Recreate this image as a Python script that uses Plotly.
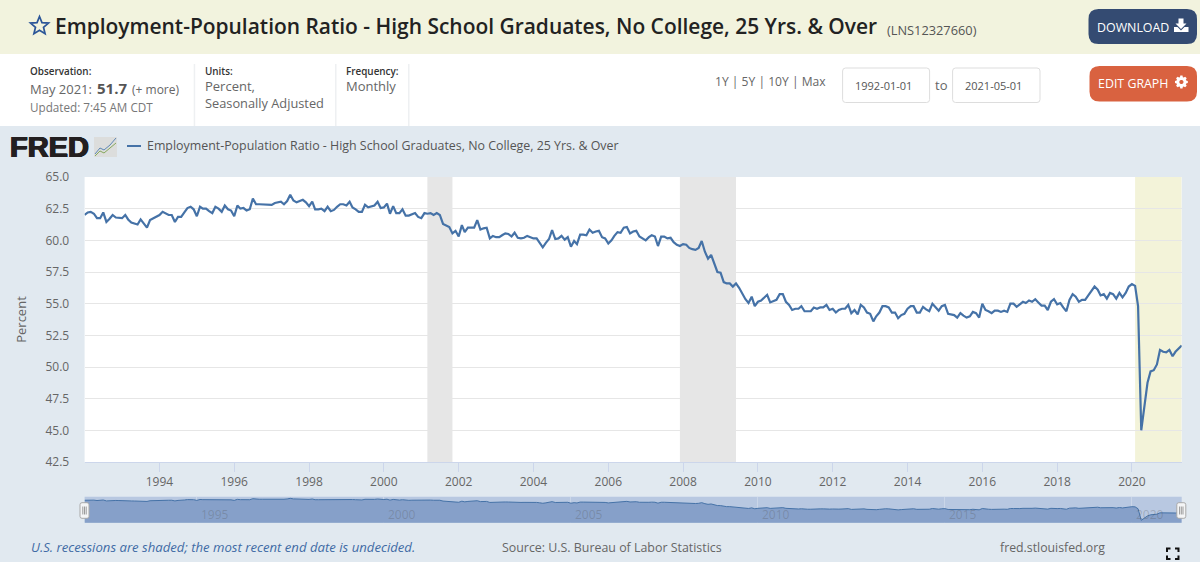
import math

import pandas as pd
import plotly.graph_objects as go

W, H = 1200, 562

# Monthly employment-population ratio, one row per year from 1992
ratio_1992_2001 = [
    62.0, 62.2, 62.25, 62.1, 61.75, 61.75, 62.2, 61.45, 61.7, 62.0, 61.8, 61.75,
    61.75, 62.0, 61.65, 61.4, 61.35, 61.25, 61.65, 61.35, 61.0, 61.6, 61.75, 61.85,
    62.0, 62.25, 62.1, 62.0, 62.0, 61.45, 61.85, 61.85, 62.2, 62.55, 62.65, 62.45,
    61.9, 62.65, 62.5, 62.5, 62.3, 62.15, 62.65, 62.5, 62.25, 62.75, 62.45, 62.35,
    61.9, 62.75, 62.5, 62.55, 62.35, 62.45, 63.3, 62.85, 62.85, 62.85, 62.8, 62.85,
    62.8, 62.95, 63.0, 63.05, 62.85, 63.1, 63.6, 63.15, 63.0, 63.1, 63.2, 63.0,
    62.7, 63.05, 62.45, 62.45, 62.5, 62.3, 62.65, 62.3, 62.4, 62.65, 62.85, 62.85,
    62.75, 63.05, 62.6, 62.45, 62.25, 62.25, 62.8, 62.6, 62.65, 62.75, 63.05, 62.55,
    62.6, 62.9, 62.1, 62.7, 62.15, 62.15, 62.45, 61.95, 61.95, 62.05, 62.15, 61.85,
    61.75, 62.15, 62.1, 62.15, 62.0, 62.15, 62.0, 61.3, 61.2, 61.05, 60.55, 60.75,
]
ratio_2002_2011 = [
    60.3, 61.2, 60.65, 61.0, 61.0, 61.0, 61.6, 60.85, 60.95, 61.0, 60.15, 60.35,
    60.25, 60.25, 60.4, 60.55, 60.5, 60.3, 60.6, 60.2, 60.15, 60.2, 60.35, 60.25,
    60.15, 60.15, 59.85, 59.45, 59.8, 60.1, 60.8, 60.1, 60.15, 60.35, 60.05, 60.25,
    59.5, 59.95, 59.7, 60.45, 60.45, 60.4, 60.85, 60.6, 60.7, 60.75, 60.25, 60.15,
    59.75, 60.0, 60.35, 60.65, 60.6, 61.0, 61.05, 60.55, 60.7, 60.75, 60.3, 60.15,
    60.0, 60.25, 60.4, 60.3, 59.55, 60.3, 60.3, 60.15, 60.2, 59.85, 59.65, 59.55,
    59.7, 59.65, 59.4, 59.3, 59.25, 59.4, 59.95, 59.1, 58.55, 58.85, 58.15, 57.5,
    57.45, 56.7, 56.6, 56.6, 56.35, 56.6, 56.25, 55.8, 55.35, 55.05, 55.55, 54.8,
    55.15, 55.25, 55.5, 55.7, 55.1, 55.2, 55.3, 55.75, 55.75, 55.15, 54.9, 54.5,
    54.6, 54.6, 54.8, 54.4, 54.4, 54.4, 54.7, 54.6, 54.7, 54.7, 54.9, 54.5,
]
ratio_2012_2021 = [
    54.6, 54.3, 54.5, 54.6, 54.6, 54.9, 54.25, 54.5, 54.15, 54.9, 54.7, 54.3,
    54.2, 53.6, 54.0, 54.3, 54.8, 54.8, 54.7, 54.3, 54.3, 53.85, 54.1, 54.2,
    54.6, 54.8, 54.8, 54.3, 54.3, 54.75, 54.55, 54.4, 55.0, 54.7, 54.45, 54.8,
    54.9, 54.2, 54.15, 54.1, 53.9, 54.25, 54.05, 53.9, 54.0, 54.35, 54.25, 53.9,
    55.0, 54.5, 54.4, 54.25, 54.45, 54.45, 54.35, 54.45, 54.35, 55.0, 55.0, 54.75,
    54.95, 55.15, 55.05, 55.25, 55.15, 55.35, 55.1, 54.85, 54.85, 54.5, 55.15, 55.35,
    54.95, 55.05, 54.7, 54.4, 55.3, 55.75, 55.55, 55.15, 55.3, 55.3, 55.65, 56.0,
    56.35, 56.1, 55.65, 55.75, 55.4, 55.85, 55.75, 55.4, 55.85, 55.5, 55.85, 56.35,
    56.55, 56.4, 54.8, 45.0, 46.9, 48.75, 49.65, 49.75, 50.2, 51.35, 51.2, 51.15,
    51.35, 50.85, 51.2, 51.5, 51.7,
]
ratio = ratio_1992_2001 + ratio_2002_2011 + ratio_2012_2021
months = pd.date_range("1992-01-01", "2021-05-01", freq="MS")

recession_starts = ["2001-03-01", "2007-12-01", "2020-02-01"]
recession_ends = ["2001-11-01", "2009-06-01", "2021-05-01"]
recession_fills = ["#e6e6e6", "#e6e6e6", "#f3f3d9"]
axis_years = list(range(1994, 2021, 2))
overview_years = [1995, 2000, 2005, 2010, 2015, 2020]

series_name = "Employment-Population Ratio - High School Graduates, No College, 25 Yrs. & Over"

BODY = "Open Sans"
GREY = "#666666"
PLOT_L, PLOT_R = 84.6, 1181.7
BG = "#e1e9f0"


def fx(px):
    return px / W


def fy(py):
    return 1 - py / H


shapes = []
annotations = []


def rect(x0, y0, x1, y1, fill, line=None, layer="below"):
    shapes.append(dict(type="rect", xref="paper", yref="paper",
                       x0=fx(x0), x1=fx(x1), y0=fy(y1), y1=fy(y0),
                       fillcolor=fill, layer=layer,
                       line=dict(color=line or fill, width=1 if line else 0)))


def ring(points):
    return "M" + " L".join(f"{fx(x):.5f},{fy(y):.5f}" for x, y in points) + " Z"


def path(points, fill=None, line=None, width=1.5, layer="above", close=False):
    d = "M" + " L".join(f"{fx(x):.5f},{fy(y):.5f}" for x, y in points) + (" Z" if close else "")
    shapes.append(dict(type="path", xref="paper", yref="paper", path=d, layer=layer,
                       fillcolor=fill or "rgba(0,0,0,0)",
                       line=dict(color=line or "rgba(0,0,0,0)", width=width if line else 0)))


def rounded(x0, y0, x1, y1, r, fill, line=None, layer="below"):
    d = (f"M{fx(x0 + r)},{fy(y0)} L{fx(x1 - r)},{fy(y0)} Q{fx(x1)},{fy(y0)} {fx(x1)},{fy(y0 + r)} "
         f"L{fx(x1)},{fy(y1 - r)} Q{fx(x1)},{fy(y1)} {fx(x1 - r)},{fy(y1)} "
         f"L{fx(x0 + r)},{fy(y1)} Q{fx(x0)},{fy(y1)} {fx(x0)},{fy(y1 - r)} "
         f"L{fx(x0)},{fy(y0 + r)} Q{fx(x0)},{fy(y0)} {fx(x0 + r)},{fy(y0)} Z")
    shapes.append(dict(type="path", xref="paper", yref="paper", path=d, layer=layer,
                       fillcolor=fill, line=dict(color=line or fill, width=1 if line else 0)))


def label(x, y, text, size=12, color=GREY, anchor="left", family=BODY, **font_extra):
    annotations.append(dict(xref="paper", yref="paper", x=fx(x), y=fy(y), text=text,
                            showarrow=False, xanchor=anchor, yanchor="middle",
                            borderpad=0, borderwidth=0,
                            font=dict(family=family, size=size, color=color, **font_extra)))


def star_points(cx, cy, outer, inner):
    pts = []
    for k in range(10):
        r = outer if k % 2 == 0 else inner
        a = -math.pi / 2 + k * math.pi / 5
        pts.append((cx + r * math.cos(a), cy + r * math.sin(a)))
    return pts


def gear_path(cx, cy, outer, root, hole, teeth=8):
    pts = []
    step = 2 * math.pi / teeth
    for k in range(teeth):
        a = k * step
        for da, r in ((-0.30, root), (-0.17, outer), (0.17, outer), (0.30, root)):
            pts.append((cx + r * math.cos(a + da), cy + r * math.sin(a + da)))
    # the hole runs the opposite way round so it stays unfilled
    centre = [(cx + hole * math.cos(-k * step / 3), cy + hole * math.sin(-k * step / 3))
              for k in range(teeth * 3)]
    return ring(pts) + " " + ring(centre)


# Page bands behind the chart
rect(0, 0, W, 54, "#f2f3de")
rect(0, 54, W, 126, "#ffffff")
rect(PLOT_L, 177, PLOT_R, 462, "#ffffff")

# Header
path(star_points(39.5, 26, 9.5, 4.2), line="#2c5698", width=1.7, close=True)
label(55, 26, series_name, size=20.95, color="#222222", weight=600)
label(887, 30, "(LNS12327660)", size=12.8, color="#555555")
rounded(1088.5, 9, 1197, 44, 10, "#344b72")
label(1097, 27, "DOWNLOAD", size=12.4, color="#ffffff")
path([(1178.5, 18.5), (1178.5, 23.5), (1175.5, 23.5), (1181, 29), (1186.5, 23.5), (1183.5, 23.5), (1183.5, 18.5)],
     fill="#ffffff", close=True)
path([(1174, 27), (1177.5, 27), (1181, 30.5), (1184.5, 27), (1188.5, 27), (1188.5, 32), (1174, 32)],
     fill="#ffffff", close=True)

# Observation, units and frequency columns
for x in (193.7, 335, 408):
    rect(x, 64, x + 1.5, 126, "#eef0f2")
label(30, 71, "Observation:", size=9.9, color="#333333", weight=600)
label(30, 89, "May 2021: ", size=13)
label(97, 88, "51.7", size=15, color="#555555", weight=700)
label(132, 89.5, "(+ more)", size=12)
label(30, 107, "Updated: 7:45 AM CDT", size=11.7, color="#777777")
label(205, 71, "Units:", size=9.9, color="#333333", weight=600)
label(205, 86.5, "Percent,", size=13)
label(205, 103.5, "Seasonally Adjusted", size=12.8)
label(346, 71, "Frequency:", size=9.9, color="#333333", weight=600)
label(346, 86.5, "Monthly", size=13)

# Date range controls
label(715.5, 81, "1Y | 5Y | 10Y | Max", size=12.1)
rounded(842.6, 68, 929.6, 102.5, 3, "#ffffff", line="#dddddd")
rounded(952.6, 68, 1040, 102.5, 3, "#ffffff", line="#dddddd")
label(883.5, 85, "1992-01-01", size=11, color="#555555", anchor="center")
label(993.5, 85, "2021-05-01", size=11, color="#555555", anchor="center")
label(941, 85, "to", size=13, anchor="center")
rounded(1089.5, 66, 1197, 101.5, 10, "#d96240")
label(1098, 83, "EDIT GRAPH", size=12.4, color="#ffffff")
shapes.append(dict(type="path", xref="paper", yref="paper", layer="above",
                   path=gear_path(1181.4, 82, 6.5, 5, 2.1), fillcolor="#ffffff",
                   line=dict(color="rgba(0,0,0,0)", width=0)))

# FRED wordmark, thickened with a tight text shadow, and its small sparkline badge
label(9.5, 147, "FRED", size=29, color="#231f20", family="Liberation Sans", weight=700,
      shadow="0.7px 0 #231f20, -0.7px 0 #231f20, 0 0.4px #231f20, 0 -0.4px #231f20")
rect(94, 137, 117, 157, "#dcdddc")
path([(95, 154), (100, 148), (104, 150), (110, 145), (116, 138)], line="#5d87b5", width=1)
path([(95, 156), (100, 151), (104, 153), (110, 148), (116, 143)], line="#86a85c", width=1)

# Legend entry
path([(127, 146), (141, 146)], line="#4572a7", width=2)
label(147, 146, series_name, size=12.4, color="#555555")

# Footer
label(31, 547, "U.S. recessions are shaded; the most recent end date is undecided.",
      size=13.15, color="#3f6ba5", style="italic")
label(502, 547, "Source: U.S. Bureau of Labor Statistics", size=12.4)
label(1000, 547, "fred.stlouisfed.org", size=12.3)
for cx, cy, dx, dy in [(1167, 548.5, 1, 1), (1178.5, 548.5, -1, 1),
                       (1167, 559, 1, -1), (1178.5, 559, -1, -1)]:
    path([(cx + 3.5 * dx, cy), (cx, cy), (cx, cy + 3.5 * dy)], line="#111111", width=2)

# Overview strip backdrop
rect(PLOT_L, 496.7, PLOT_R, 522.7, "#b8c8e1")

# Shaded periods on the main plot
for start, end, fill in zip(recession_starts, recession_ends, recession_fills):
    shapes.append(dict(type="rect", xref="x", yref="y domain", x0=start, x1=end,
                       y0=0, y1=1, fillcolor=fill, line=dict(width=0), layer="below"))

# Range handles at both ends of the overview strip
for x0 in (80, 1176.8):
    rounded(x0, 502.7, x0 + 9, 518.3, 2, "#f4f5f6", line="#a9a9a9", layer="above")
    for bar in (2.8, 4.5, 6.2):
        path([(x0 + bar, 506.5), (x0 + bar, 514.5)], line="#9a9a9a", width=1)

# Year captions inside the overview strip
for year in overview_years:
    annotations.append(dict(xref="x2", yref="paper", x=f"{year}-01-01", y=fy(514), text=str(year),
                            showarrow=False, xanchor="left", yanchor="middle", xshift=2,
                            font=dict(family=BODY, size=12, color="rgba(85,85,85,0.28)")))

fig = go.Figure()
fig.add_trace(go.Scatter(x=months, y=ratio, mode="lines", name=series_name,
                         line=dict(color="#4572a7", width=2.2), xaxis="x", yaxis="y",
                         hoverinfo="x+y"))
fig.add_trace(go.Scatter(x=months, y=ratio, mode="lines", name=series_name,
                         line=dict(color="#4572a7", width=1), fill="tozeroy",
                         fillcolor="#86a0c9", xaxis="x2", yaxis="y2", hoverinfo="skip"))

date_range = ["1992-01-01", "2021-05-01"]
fig.update_layout(
    width=W, height=H, showlegend=False,
    margin=dict(l=0, r=0, t=0, b=0, autoexpand=False),
    paper_bgcolor=BG, plot_bgcolor="rgba(0,0,0,0)",
    font=dict(family=BODY, size=12, color=GREY),
    shapes=shapes, annotations=annotations,
    xaxis=dict(domain=[fx(PLOT_L), fx(PLOT_R)], range=date_range, anchor="y", type="date",
               tickmode="array", tickvals=[f"{y}-01-01" for y in axis_years],
               ticktext=[str(y) for y in axis_years], showgrid=False,
               ticks="outside", ticklen=9, tickcolor="#ccd6eb", tickwidth=1,
               showline=True, linecolor="#ccd6eb", linewidth=1, zeroline=False,
               tickfont=dict(family=BODY, size=12, color=GREY)),
    yaxis=dict(domain=[fy(462), fy(177)], range=[42.5, 65], anchor="x", tick0=42.5, dtick=2.5,
               tickformat=".1f", showgrid=True, gridcolor="#e6e6e6", gridwidth=1, zeroline=False,
               ticks="outside", ticklen=12, tickcolor="rgba(0,0,0,0)",
               tickfont=dict(family=BODY, size=12, color=GREY),
               title=dict(text="Percent", standoff=15, font=dict(family=BODY, size=13, color=GREY))),
    xaxis2=dict(domain=[fx(PLOT_L), fx(PLOT_R)], range=date_range, anchor="y2", type="date",
                tick0="1995-01-01", dtick="M60", showgrid=True, gridcolor="rgba(255,255,255,0.25)",
                showticklabels=False, ticks="", zeroline=False),
    yaxis2=dict(domain=[fy(522.7), fy(496.7)], range=[43, 65], anchor="x2", showgrid=False,
                showticklabels=False, ticks="", zeroline=False),
)

fig.write_html("out.html")
